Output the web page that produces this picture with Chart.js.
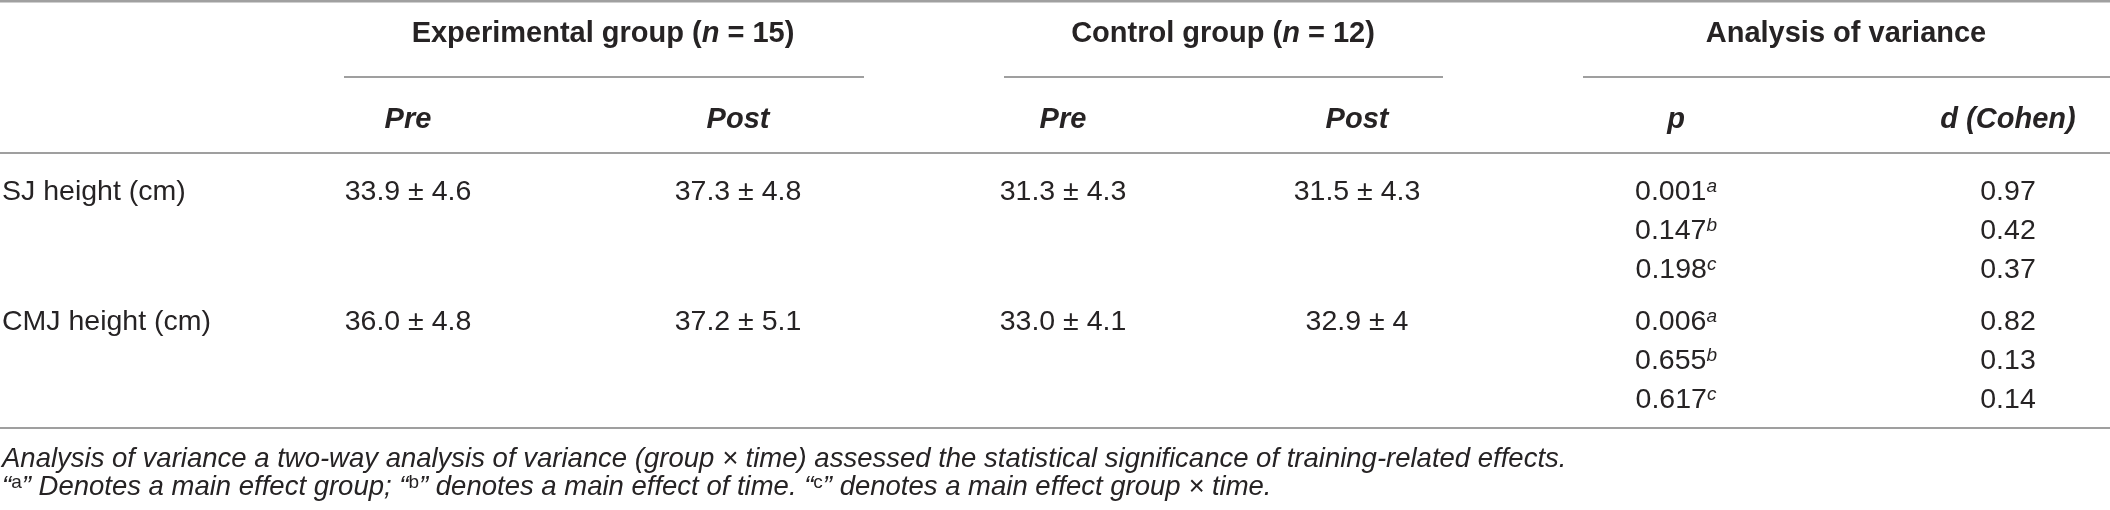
<!DOCTYPE html>
<html>
<head>
<meta charset="utf-8">
<script src="https://cdn.jsdelivr.net/npm/chart.js@4.4.1/dist/chart.umd.min.js"></script>
<style>
  html, body { margin: 0; padding: 0; background: #ffffff; }
  #wrap { width: 2110px; height: 510px; }
</style>
</head>
<body>
<div id="wrap"><canvas id="c" width="2110" height="510"></canvas></div>
<script>
// ---------------- data ----------------
const groupNames = ['Experimental group', 'Control group', 'Analysis of variance'];
const groupN = [15, 12, null];
const subHeaders = ['Pre', 'Post', 'Pre', 'Post', 'p', 'd (Cohen)'];
const measures = ['SJ height (cm)', 'CMJ height (cm)'];
const expPreMean = [33.9, 36.0];
const expPreSD = [4.6, 4.8];
const expPostMean = [37.3, 37.2];
const expPostSD = [4.8, 5.1];
const ctrlPreMean = [31.3, 33.0];
const ctrlPreSD = [4.3, 4.1];
const ctrlPostMean = [31.5, 32.9];
const ctrlPostSD = [4.3, 4];
const effectKeys = ['a', 'b', 'c'];
const sjP = [0.001, 0.147, 0.198];
const sjD = [0.97, 0.42, 0.37];
const cmjP = [0.006, 0.655, 0.617];
const cmjD = [0.82, 0.13, 0.14];
const noteLine1 = 'Analysis of variance a two-way analysis of variance (group \u00d7 time) assessed the statistical significance of training-related effects.';
const noteEffects = ['Denotes a main effect group;', 'denotes a main effect of time.', 'denotes a main effect group \u00d7 time.'];

// ---------------- layout & style ----------------
const L = {
  W: 2110, H: 510,
  labelX: 2,
  colX: [408, 738, 1063, 1357, 1676, 2008],
  groupX: [603, 1223, 1846],
  groupRule: [[344, 864], [1004, 1443], [1583, 2110]],
  groupBase: 42,
  subBase: 128,
  rowBase: [[200, 239, 278], [330, 369, 408]],
  ruleTop: 1.2, ruleGroup: 77, ruleHead: 153, ruleBottom: 428,
  noteX: 2,
  noteBase: [467, 495],
  supRise: 8, noteSupRise: 7
};
const FAM = '"Liberation Sans", Arial, Helvetica, sans-serif';
const F = {
  reg: '28.5px ' + FAM,
  bold: 'bold 29px ' + FAM,
  bi: 'italic bold 29px ' + FAM,
  sup: 'italic 19px ' + FAM,
  note: 'italic 27.5px ' + FAM,
  noteSup: '19px ' + FAM
};
const TEXT = '#262324';
const RULE = '#7f7f7f';

const msd = (m, s) => m.toFixed(1) + ' \u00b1 ' + String(s);

// ---------------- build cell points ----------------
function pt(x, y, segs, align) { return { x: x, y: y, segs: segs, align: align || 'center' }; }

const labelPts = measures.map((m, i) => pt(L.labelX, L.rowBase[i][0], [{ t: m, font: F.reg }], 'left'));

const groupPts = groupNames.map((g, i) => {
  const segs = groupN[i] === null
    ? [{ t: g, font: F.bold }]
    : [{ t: g + ' (', font: F.bold }, { t: 'n', font: F.bi }, { t: ' = ' + groupN[i] + ')', font: F.bold }];
  return pt(L.groupX[i], L.groupBase, segs);
});

const subPts = subHeaders.map((s, i) => pt(L.colX[i], L.subBase, [{ t: s, font: F.bi }]));

const meanCols = [[expPreMean, expPreSD], [expPostMean, expPostSD], [ctrlPreMean, ctrlPreSD], [ctrlPostMean, ctrlPostSD]];
const valuePts = [];
meanCols.forEach((pair, c) => {
  measures.forEach((m, r) => {
    valuePts.push(pt(L.colX[c], L.rowBase[r][0], [{ t: msd(pair[0][r], pair[1][r]), font: F.reg }]));
  });
});
[[sjP, sjD], [cmjP, cmjD]].forEach((pd, r) => {
  effectKeys.forEach((k, j) => {
    valuePts.push(pt(L.colX[4], L.rowBase[r][j], [
      { t: pd[0][j].toFixed(3), font: F.reg },
      { t: k, font: F.sup, rise: L.supRise }
    ]));
    valuePts.push(pt(L.colX[5], L.rowBase[r][j], [{ t: pd[1][j].toFixed(2), font: F.reg }]));
  });
});

const note2 = [];
effectKeys.forEach((k, j) => {
  note2.push({ t: (j === 0 ? '' : ' ') + '\u201c', font: F.note });
  note2.push({ t: k, font: F.noteSup, rise: L.noteSupRise });
  note2.push({ t: '\u201d ' + noteEffects[j], font: F.note });
});
const notePts = [
  pt(L.noteX, L.noteBase[0], [{ t: noteLine1, font: F.note }], 'left'),
  pt(L.noteX, L.noteBase[1], note2, 'left')
];

// ---------------- drawing helpers ----------------
function drawRich(ctx, segs, x, y, align) {
  let w = 0;
  segs.forEach(s => { ctx.font = s.font; s.w = ctx.measureText(s.t).width; w += s.w; });
  let cx = align === 'left' ? x : (align === 'right' ? x - w : x - w / 2);
  ctx.textAlign = 'left';
  ctx.textBaseline = 'alphabetic';
  segs.forEach(s => {
    ctx.font = s.font;
    ctx.fillStyle = TEXT;
    ctx.fillText(s.t, cx, y - (s.rise || 0));
    cx += s.w;
  });
}

const tablePlugin = {
  id: 'tablePlugin',
  beforeDatasetsDraw(chart) {
    const ctx = chart.ctx, xs = chart.scales.x, ys = chart.scales.y;
    ctx.save();
    const hline = (x1, x2, y, lw, col) => {
      ctx.beginPath();
      ctx.strokeStyle = col;
      ctx.lineWidth = lw;
      ctx.moveTo(xs.getPixelForValue(x1), ys.getPixelForValue(y));
      ctx.lineTo(xs.getPixelForValue(x2), ys.getPixelForValue(y));
      ctx.stroke();
    };
    hline(0, L.W, L.ruleTop, 2.4, '#a0a0a0');
    L.groupRule.forEach(g => hline(g[0], g[1], L.ruleGroup, 1.4, RULE));
    hline(0, L.W, L.ruleHead, 1.4, RULE);
    hline(0, L.W, L.ruleBottom, 1.4, RULE);
    ctx.restore();
  },
  afterDatasetsDraw(chart) {
    const ctx = chart.ctx;
    ctx.save();
    chart.data.datasets.forEach((ds, di) => {
      const meta = chart.getDatasetMeta(di);
      meta.data.forEach((el, i) => {
        const raw = ds.data[i];
        drawRich(ctx, raw.segs, el.x, el.y, raw.align);
      });
    });
    ctx.restore();
  }
};

const mk = (label, data) => ({ label: label, data: data, pointRadius: 0, pointHoverRadius: 0, showLine: false, borderWidth: 0 });

new Chart(document.getElementById('c'), {
  type: 'scatter',
  data: {
    datasets: [
      mk('groups', groupPts),
      mk('subheaders', subPts),
      mk('labels', labelPts),
      mk('values', valuePts),
      mk('notes', notePts)
    ]
  },
  options: {
    responsive: false,
    animation: false,
    devicePixelRatio: 1,
    events: [],
    layout: { padding: 0 },
    plugins: { legend: { display: false }, tooltip: { enabled: false } },
    scales: {
      x: { type: 'linear', display: false, min: 0, max: L.W },
      y: { type: 'linear', display: false, min: 0, max: L.H, reverse: true }
    }
  },
  plugins: [tablePlugin]
});
</script>
</body>
</html>
